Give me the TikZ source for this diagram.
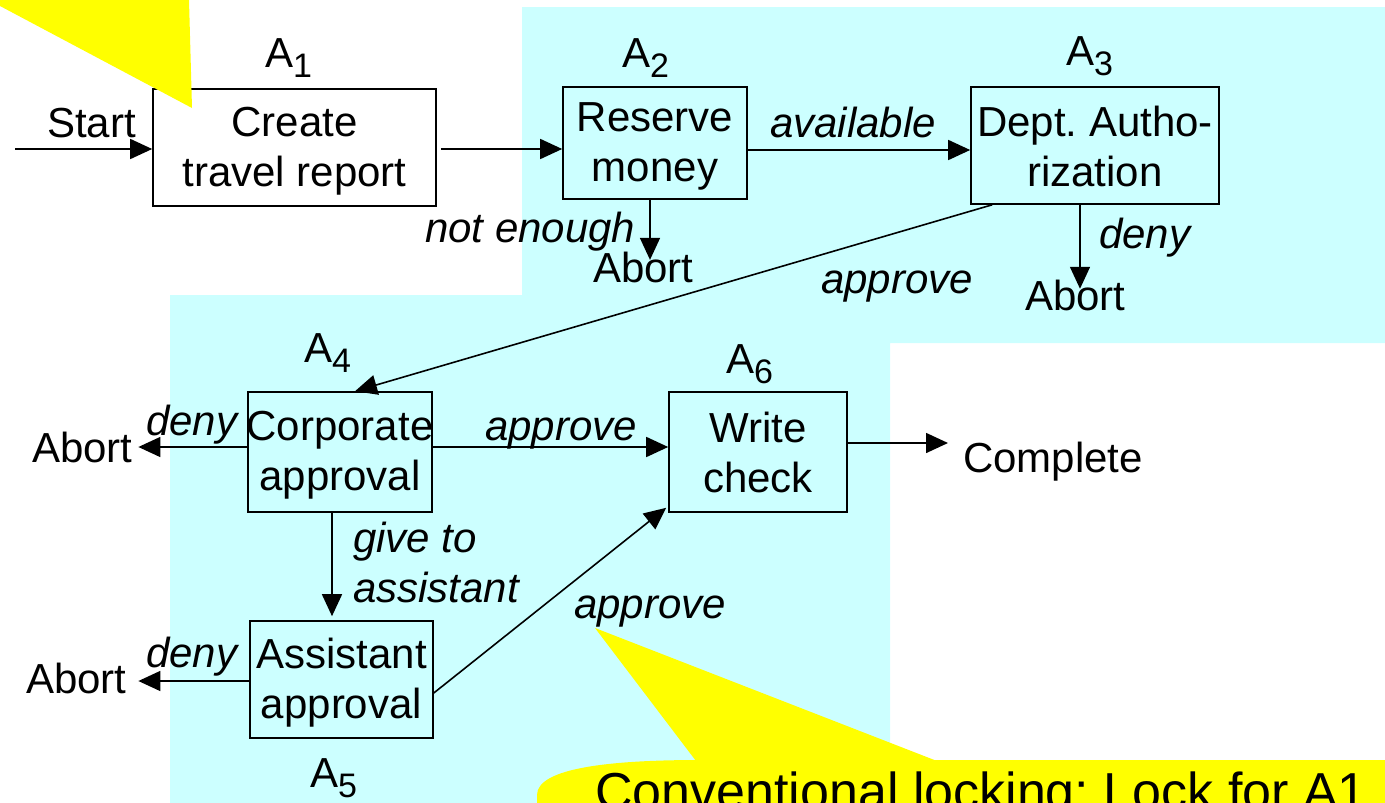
\documentclass[tikz,border=0pt]{standalone}
\usepackage{fontspec}
\setmainfont{Liberation Sans}
\usetikzlibrary{arrows.meta,calc}
\frenchspacing

% one line of text inside an activity box, with a fixed strut so all boxes align alike
\newcommand\boxline[1]{\makebox[0pt]{\rule[-5pt]{0pt}{41pt}#1}}
% activity label with a lowered index
\newcommand\actlabel[1]{A\raisebox{-10pt}{\fontsize{34}{34}\selectfont #1}}

\definecolor{scope}{RGB}{204,255,255}
\definecolor{note}{RGB}{255,255,0}

\begin{document}
\begin{tikzpicture}[x=1pt,y=-1pt,
  stage/.style={draw=black,line width=1.6pt,inner sep=0pt,align=center,
    font=\fontsize{42}{50}\selectfont},
  txt/.style={inner sep=0pt,anchor=base west,font=\fontsize{42}{50}\selectfont},
  itxt/.style={txt,font=\fontsize{42}{50}\selectfont\itshape},
  arr/.style={line width=1.6pt,-{Triangle[length=22pt,width=20pt]}}]

\useasboundingbox (0,0) rectangle (1385,803);
\clip (0,0) rectangle (1385,803);

% shaded scope of the transaction
\fill[scope] (522,7) -- (1385,7) -- (1385,343) -- (890,343) -- (890,803)
  -- (170,803) -- (170,295) -- (522,295) -- cycle;

% activities
\node[stage,minimum width=283pt,minimum height=117pt] (A1) at (294.5,147.5)
  {\boxline{Create}\\\boxline{travel report}};
\node[stage,minimum width=184pt,minimum height=112pt] (A2) at (655,143)
  {\boxline{Reserve}\\\boxline{money}};
\node[stage,minimum width=248pt,minimum height=117pt] (A3) at (1095,145.5)
  {\boxline{Dept. Autho-}\\\boxline{rization}};
\node[stage,minimum width=184pt,minimum height=120pt] (A4) at (340,452)
  {\boxline{Corporate}\\\boxline{approval}};
\node[stage,minimum width=183pt,minimum height=117pt] (A5) at (341.5,679.5)
  {\boxline{Assistant}\\\boxline{approval}};
\node[stage,minimum width=178pt,minimum height=120pt] (A6) at (758,452)
  {\boxline{Write}\\\boxline{check}};

% activity names
\node[txt] (l1) at (265,67) {\actlabel{1}};
\node[txt] (l2) at (622,67) {\actlabel{2}};
\node[txt] (l3) at (1066,65) {\actlabel{3}};
\node[txt] (l4) at (304,362) {\actlabel{4}};
\node[txt] (l5) at (310,787) {\actlabel{5}};
\node[txt] (l6) at (726,373) {\actlabel{6}};

% end points
\node[txt] (st) at (47,137) {Start};
\node[txt] (ab2) at (593,282) {Abort};
\node[txt] (ab3) at (1025,310) {Abort};
\node[txt] (ab4) at (32,462) {Abort};
\node[txt] (ab5) at (26,693) {Abort};
\node[txt] (cmp) at (963,472) {Complete};

% transition labels
\node[itxt] (t23) at (770,137) {available};
\node[itxt] (t2a) at (425,242) {not enough};
\node[itxt] (t3a) at (1099,248) {deny};
\node[itxt] (t34) at (821,293) {approve};
\node[itxt] (t4a) at (146,435) {deny};
\node[itxt] (t46) at (485,440) {approve};
\node[itxt] (t45a) at (353,552) {give to};
\node[itxt] (t45b) at (353,602) {assistant};
\node[itxt] (t5a) at (146,667) {deny};
\node[itxt] (t56) at (574,618) {approve};

% transitions
\coordinate (s0) at (15,149);
\draw[arr] (s0) -- (s0 -| A1.west);
\draw[arr] ([xshift=4pt,yshift=-1.5pt]A1.east) -- ([yshift=-1.5pt]A1.east -| A2.west);
\draw[arr] ([yshift=-7pt]A2.east) -- ([yshift=-7pt]A2.east -| A3.west);
\draw[arr,shorten >=-8.5pt] ([xshift=-5pt]A2.south) -- ([xshift=-5pt]A2.south |- ab2.north);
\draw[arr,shorten >=-9.4pt] ([xshift=-15pt]A3.south) -- ([xshift=-15pt]A3.south |- ab3.north);
\draw[arr] ([xshift=22pt]A3.south west) -- ([xshift=15pt]A4.north);
\draw[arr] ([yshift=5pt]A4.east) -- ([yshift=5pt]A4.east -| A6.west);
\draw[arr,shorten >=5.6pt] ([yshift=5pt]A4.west) -- ([yshift=5pt]A4.west -| ab4.east);
\draw[arr,shorten >=4pt] ([xshift=-8pt]A4.south) -- ([xshift=-8pt]A4.south |- A5.north);
\draw[arr,shorten >=11.6pt] ([yshift=-1.5pt]A5.west) -- ([yshift=-1.5pt]A5.west -| ab5.east);
\draw[arr] ([yshift=-13.5pt]A5.east) -- ([xshift=-2pt,yshift=5pt]A6.south west);
\draw[arr,shorten >=15pt] ([yshift=9pt]A6.east) -- ([yshift=9pt]A6.east -| cmp.west);

% callout pointing at the first activity
\fill[note] (0,0) -- (189,0) -- (192,108) -- (0,6) -- cycle;

% callout pointing at the last approval
\fill[note] (595,628) -- (696,761) -- (937,761) -- cycle;
\fill[note] (537,810) -- (537,795) .. controls (537,768) and (610,760) .. (700,760)
  -- (1390,760) -- (1390,810) -- cycle;
\node[txt,font=\fontsize{52}{60}\selectfont] (cn) at (595,809)
  {Conventional locking: Lock for A1};

\end{tikzpicture}
\end{document}
